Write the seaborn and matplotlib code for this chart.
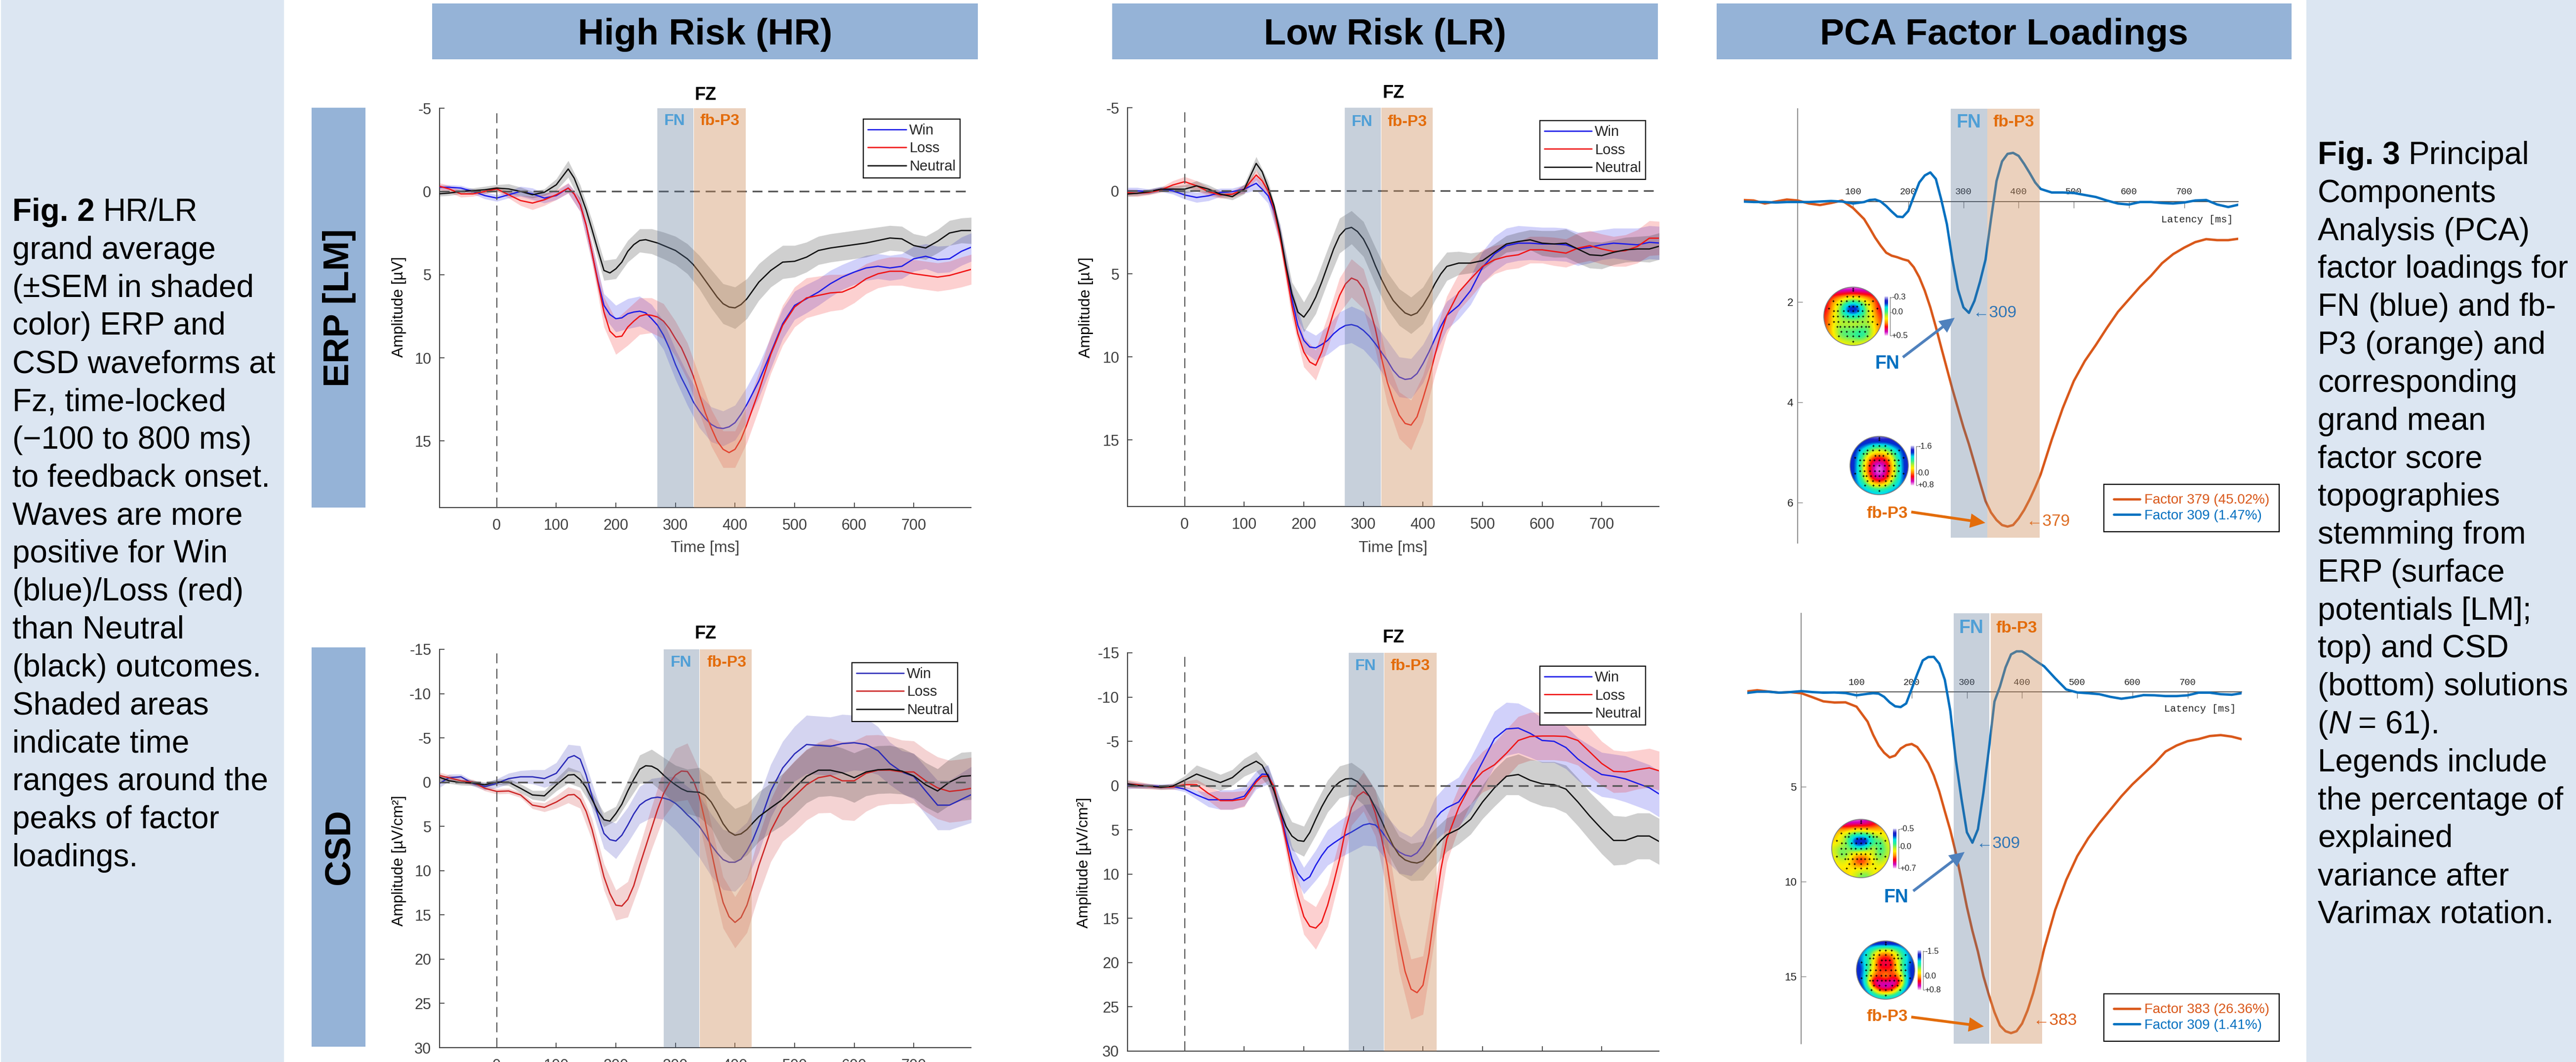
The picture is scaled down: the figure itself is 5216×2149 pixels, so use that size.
import numpy as np
import pandas as pd
import matplotlib
matplotlib.use("Agg")
import matplotlib.pyplot as plt
import seaborn as sns
from matplotlib.colors import LinearSegmentedColormap
from matplotlib.patches import Rectangle, Circle

# sample times of the grand average waveforms [ms]
time = list(range(-100, 801, 20))
# extra readings around the peaks, for the lines only
mid_time = [130,150,170,190,210,230,250,270,290,310,330,350,370,390,410,430]

# HR ERP
hr_erp_win = [-.25,-.25,-.2,0,.25,.4,.2,0,.15,.4,.25,-.2,.8,3.7,6.85,7.65,7.35,7.2,7.65,8.65,10.4,11.9,13.2,14.0,14.25,13.9,12.8,11.4,9.7,7.95,6.85,6.45,6.05,5.55,5.15,4.85,4.6,4.5,4.6,4.5,4.05,3.9,4.1,4.05,3.6,3.3]
hr_erp_loss = [-.35,-.15,.15,.15,0,-.15,.2,.55,.7,.5,.2,-.2,.8,3.7,7.25,8.75,8.15,7.5,7.45,7.8,8.85,10.2,12.2,14.2,15.5,15.5,14.0,12.0,9.8,8.05,6.95,6.4,6.25,6.1,6.05,5.75,5.25,4.95,4.8,4.8,4.95,5.05,5.15,5.05,4.85,4.65]
hr_erp_neutral = [.15,.1,0,-.05,-.1,-.2,-.15,0,.2,.05,-.4,-1.35,.1,2.3,4.75,4.65,3.6,2.95,3.0,3.25,3.55,4.05,4.85,5.85,6.75,7.0,6.45,5.45,4.75,4.25,4.2,3.95,3.55,3.4,3.3,3.2,3.1,2.95,2.8,2.85,3.25,3.4,3.0,2.5,2.35,2.35]
hr_erp_win_mid = [.15,2.0,5.4,7.4,7.6,7.25,7.3,8.05,9.45,11.2,12.65,13.65,14.2,14.15,13.4,12.1]
hr_erp_loss_mid = [.15,2.0,5.5,8.4,8.7,7.8,7.4,7.55,8.25,9.4,11.1,13.3,15.0,15.7,14.9,13.0]
hr_erp_neutral_mid = [-.8,1.1,3.55,4.9,4.25,3.2,2.9,3.1,3.4,3.8,4.4,5.35,6.35,6.95,6.8,5.95]
hr_erp_win_sem = [.15,.15,.15,.15,.2,.2,.2,.3,.35,.3,.25,.3,.4,.5,.7,.8,.9,.9,.85,.85,.9,.95,1.0,1.05,1.05,1.05,1.05,1.0,.95,.9,.85,.85,.8,.8,.75,.75,.75,.75,.75,.75,.75,.75,.8,.8,.85,.85]
hr_erp_loss_sem = [.2,.2,.2,.15,.15,.15,.2,.3,.4,.35,.3,.3,.4,.6,.9,1.05,1.1,1.1,1.05,1.05,1.05,1.1,1.1,1.1,1.1,1.1,1.1,1.1,1.15,1.2,1.2,1.2,1.15,1.1,1.05,.95,.9,.85,.85,.85,.85,.85,.85,.85,.9,.9]
hr_erp_neutral_sem = [.15,.15,.15,.15,.2,.2,.3,.25,.2,.2,.35,.5,.5,.55,.6,.6,.65,.7,.75,.8,.85,.9,1.0,1.15,1.2,1.25,1.2,1.1,1.0,1.0,.95,.9,.85,.85,.85,.85,.85,.8,.75,.75,.7,.7,.7,.75,.75,.8]

# LR ERP
lr_erp_win = [0,0,.05,-.1,0,.25,.4,.3,.1,.05,-.1,-.45,.3,2.6,6.5,9.0,9.45,9.0,8.3,8.05,8.4,9.2,10.2,11.2,11.3,10.4,8.9,7.5,6.9,6.0,4.6,3.8,3.3,3.15,3.15,3.2,3.2,3.25,3.5,3.4,3.25,3.15,3.2,3.25,3.1,3.15]
lr_erp_loss = [.1,.15,.1,-.05,-.35,-.55,-.3,.05,.25,.2,-.1,-.95,0,2.8,6.9,9.7,10.5,8.5,6.3,5.25,5.9,8.3,11.5,13.5,14.1,12.5,9.9,7.5,6.1,5.3,4.55,4.15,3.95,3.85,3.55,3.55,3.65,3.75,3.45,3.3,3.5,3.65,3.6,3.35,2.85,2.85]
lr_erp_neutral = [.2,.15,.05,-.1,-.1,-.1,-.3,-.1,.2,.35,-.1,-1.65,-.2,2.5,6.2,7.6,6.4,4.5,2.7,2.2,2.9,4.5,6.0,7.0,7.5,6.9,5.6,4.55,4.35,4.35,4.2,3.7,3.2,3.05,2.95,3.15,3.2,3.15,3.5,3.85,3.9,3.7,3.55,3.5,3.5,3.3]
lr_erp_win_mid = [-.1,1.2,4.7,8.1,9.4,9.25,8.6,8.1,8.15,8.75,9.7,10.8,11.35,11.0,9.7,8.15]
lr_erp_loss_mid = [-.6,1.1,4.8,8.6,10.3,9.7,7.3,5.6,5.4,7.0,10.0,12.6,14.0,13.6,11.3,8.6]
lr_erp_neutral_mid = [-1.15,.9,4.5,7.3,7.1,5.5,3.5,2.3,2.45,3.6,5.3,6.6,7.35,7.35,6.3,5.0]
lr_erp_win_sem = [.2,.2,.15,.15,.2,.25,.3,.3,.25,.2,.25,.4,.45,.55,.65,.7,.75,.85,1.0,1.1,1.15,1.15,1.2,1.2,1.2,1.15,1.0,.85,.8,.85,.95,1.05,1.05,1.05,1.0,1.0,1.0,1.0,1.0,.95,.9,.9,.95,1.0,1.0,1.0]
lr_erp_loss_sem = [.2,.2,.15,.15,.25,.3,.3,.25,.2,.2,.25,.3,.35,.5,.75,.9,.9,.95,1.05,1.15,1.2,1.25,1.3,1.4,1.5,1.4,1.2,1.15,1.1,1.1,1.0,.85,.8,.8,.8,.8,.85,.85,.9,.9,.9,.9,.95,1.0,1.05,1.0]
lr_erp_neutral_sem = [.15,.15,.15,.15,.2,.25,.3,.25,.2,.2,.3,.4,.4,.5,.7,.9,1.0,1.0,1.05,1.0,1.05,1.1,1.1,1.1,1.1,1.1,1.0,.85,.7,.6,.55,.5,.5,.55,.6,.75,.8,.85,.85,.8,.8,.75,.75,.75,.8,.8]

# HR CSD
hr_csd_win = [.3,-.5,-.6,.15,.5,.15,-.4,-.6,-.6,-.4,-1.0,-2.75,-2.6,1.6,5.8,6.65,4.85,2.6,1.8,1.8,2.4,3.7,5.0,7.1,8.75,9.05,7.75,4.85,1.0,-1.6,-3.2,-4.25,-4.15,-4.05,-4.35,-4.45,-4.25,-3.55,-2.1,-1.15,-.65,1.0,2.6,2.6,1.95,1.3]
hr_csd_loss = [-.8,-.5,-.15,0,.7,1.05,1.0,1.45,2.6,2.85,2.25,1.45,1.95,5.35,10.7,13.9,13.25,9.4,5.2,1.3,-.8,-1.2,1.6,7.75,13.6,15.85,13.9,9.4,5.5,2.9,1.6,.3,-.5,-.75,-.15,-.15,-1.0,-1.35,-1.35,-1.15,-1.15,-.15,.65,1.05,.9,.65]
hr_csd_neutral = [-.65,-.15,.05,.1,.3,0,0,.7,1.45,1.55,.3,-.8,-.3,1.95,4.25,3.55,1.0,-1.45,-1.8,-.8,.3,1.05,1.15,2.25,4.7,6.0,5.35,3.9,2.9,1.95,.65,-.65,-1.35,-1.35,-1.05,-.5,-1.15,-1.4,-1.45,-1.25,-.7,.3,1.0,0,-.65,-.75]
hr_csd_win_mid = [-3.0,-.8,3.8,6.5,6.0,3.6,2.1,1.7,2.0,3.0,4.3,6.0,8.0,9.05,8.7,6.5]
hr_csd_loss_mid = [1.4,3.3,8.0,12.6,14.0,11.7,7.3,3.1,.1,-1.25,-.2,4.5,10.9,15.2,15.3,11.7]
hr_csd_neutral_mid = [-.85,.6,3.3,4.4,2.5,-.3,-1.85,-1.45,-.2,.75,1.1,1.5,3.4,5.6,5.85,4.6]
hr_csd_win_sem = [.5,.4,.3,.3,.4,.5,.6,.7,.8,1.0,1.2,1.5,1.5,1.5,1.7,2.0,2.0,2.1,2.2,2.4,3.0,3.2,3.5,3.5,3.4,3.3,3.2,3.1,3.0,3.0,3.1,3.3,3.3,3.3,3.3,3.1,3.0,2.7,2.4,2.4,2.6,2.7,2.8,2.8,3.0,3.2]
hr_csd_loss_sem = [.4,.3,.3,.3,.3,.3,.3,.3,.4,.5,.7,.9,1.0,1.2,1.5,1.7,2.0,2.2,2.4,2.7,3.0,3.2,3.0,3.0,2.9,2.9,3.1,3.3,3.5,3.8,4.0,4.0,4.0,4.2,4.4,4.5,4.3,4.0,3.8,3.6,3.5,3.5,3.5,3.5,3.5,3.5]
hr_csd_neutral_sem = [.4,.3,.3,.3,.3,.3,.4,.5,.5,.6,.7,.9,.9,.8,.8,.8,1.2,1.6,1.9,2.0,2.2,2.5,2.8,2.9,3.0,3.0,2.9,2.8,2.8,2.9,3.0,3.0,3.0,2.9,2.8,2.8,2.7,2.7,2.7,2.6,2.5,2.5,2.5,2.6,2.7,2.7]

# LR CSD
lr_csd_win = [0,0,.05,.1,.1,.4,1.05,1.6,1.6,1.6,1.2,-.6,-1.25,2.8,8.3,10.75,9.0,7.0,6.05,5.25,4.45,4.45,6.05,7.5,8.0,6.7,3.8,2.5,1.85,-.1,-2.7,-5.3,-6.4,-6.5,-5.9,-5.1,-5.0,-4.3,-3.0,-2.05,-1.25,-1.05,-.75,-.25,.25,1.1]
lr_csd_loss = [-.2,-.1,.1,.2,.15,-.1,-.1,.9,1.7,1.7,1.5,-.4,-1.05,3.1,9.6,14.8,16.1,13.5,8.3,2.5,.7,3.1,9.0,17.7,23.0,22.55,14.15,6.05,2.5,-.1,-1.55,-2.35,-3.65,-5.1,-5.55,-5.6,-5.6,-5.55,-5.1,-3.8,-2.5,-1.6,-1.55,-1.8,-2.0,-1.6]
lr_csd_neutral = [-.25,0,.05,.2,.05,-.6,-1.3,-.8,-.35,-.9,-2.05,-2.75,-1.05,2.8,5.7,6.3,3.8,1.2,-.4,-.8,.25,2.5,5.4,7.85,8.65,8.5,7.0,5.55,4.9,3.8,1.85,.25,-1.05,-1.25,-.6,-.2,-.1,.4,1.85,3.45,4.9,6.2,6.2,5.7,5.7,6.45]
lr_csd_win_mid = [-1.3,.3,5.8,9.9,10.3,7.9,6.5,5.6,4.85,4.3,5.1,6.9,7.85,7.6,5.2,3.0]
lr_csd_loss_mid = [-1.05,.1,6.3,12.5,15.9,15.4,11.0,5.0,1.2,1.2,5.8,13.5,21.0,23.4,19.0,9.5]
lr_csd_neutral_mid = [-2.3,.6,4.6,6.2,5.3,2.4,.2,-.75,-.45,1.2,3.9,6.8,8.4,8.75,7.8,6.2]
lr_csd_win_sem = [.4,.3,.25,.25,.3,.3,.5,.8,1.1,1.1,1.1,1.0,1.1,1.3,1.4,1.5,1.7,2.0,2.1,2.2,2.3,2.4,2.5,2.4,2.2,2.2,2.4,2.6,2.8,3.0,3.1,3.1,3.0,2.8,2.7,2.5,2.4,2.4,2.4,2.5,2.5,2.5,2.6,2.6,2.6,2.6]
lr_csd_loss_sem = [.5,.4,.3,.25,.3,.4,.6,.8,1.0,1.0,.9,.5,.5,.9,1.6,2.0,2.4,2.4,2.2,2.0,2.2,2.6,3.0,3.3,3.4,3.3,3.0,2.6,2.3,2.2,2.3,2.5,2.7,2.7,2.7,2.7,2.7,2.8,2.8,2.7,2.5,2.4,2.3,2.2,2.2,2.2]
lr_csd_neutral_sem = [.4,.3,.25,.25,.3,.5,1.0,1.0,.9,.9,1.0,1.1,1.1,1.3,1.6,1.7,1.8,1.8,1.8,1.8,1.9,2.0,2.1,2.1,2.1,2.2,2.1,1.9,1.7,1.7,1.9,2.1,2.1,2.3,2.4,2.5,2.6,2.7,2.7,2.7,2.8,2.8,2.7,2.6,2.6,2.6]

# PCA factor loadings
pca_time = [-100,-80,-60,-40,-20,0,20,40,60,80,100,120,130,140,150,160,170,180,190,200,210,220,230,240,250,260,270,280,290,300,310,320,330,340,350,360,370,380,390,400,410,420,430,440,460,480,500,520,540,560,580,600,620,640,660,680,700,720,740,760,780,800]
erp_factor_379 = [-.03,-.02,.04,0,-.04,-.02,.04,.07,.03,-.02,.13,.35,.53,.72,.88,1.02,1.08,1.11,1.15,1.18,1.31,1.51,1.78,2.11,2.5,2.92,3.33,3.74,4.12,4.5,4.84,5.22,5.6,5.97,6.2,6.35,6.45,6.48,6.45,6.32,6.15,5.94,5.7,5.44,4.75,4.12,3.58,3.18,2.86,2.52,2.2,1.95,1.7,1.48,1.23,1.05,.92,.81,.75,.77,.77,.74]
erp_factor_309 = [0,.01,.01,.02,.01,.01,.01,0,-.01,0,.04,.01,-.03,-.04,0,.09,.2,.30,.31,.19,-.1,-.38,-.52,-.58,-.45,-.03,.45,1.16,1.75,2.11,2.22,1.98,1.6,1.16,.35,-.41,-.8,-.95,-.97,-.91,-.75,-.57,-.38,-.25,-.18,-.18,-.17,-.13,-.09,-.02,.04,.06,.01,.01,.03,.04,.02,-.02,-.03,.06,.11,.06]
csd_factor_383 = [-.03,-.1,-.03,.03,0,.06,.27,.49,.55,.54,.77,1.56,2.25,2.82,3.2,3.45,3.35,2.98,2.8,2.74,2.9,3.3,3.75,4.4,5.25,6.29,7.3,8.5,9.9,11.34,12.6,13.7,15.0,16.0,16.9,17.6,17.9,18.0,17.9,17.5,16.8,15.9,14.8,13.55,11.5,9.92,8.66,7.71,6.92,6.21,5.5,4.87,4.32,3.77,3.14,2.82,2.59,2.48,2.32,2.27,2.35,2.5]
csd_factor_309 = [.05,-.02,-.02,.03,0,-.05,0,.03,.02,.05,.17,.09,.06,.08,.25,.54,.75,.79,.6,-.17,-.95,-1.67,-1.85,-1.86,-1.5,-.65,1.0,3.6,5.6,7.4,7.95,7.24,5.3,2.98,.5,-.3,-1.3,-1.99,-2.15,-2.15,-1.97,-1.75,-1.55,-1.36,-.73,-.14,.02,.06,.11,.25,.35,.27,.16,.17,.21,.21,.17,.03,.03,.11,.14,.05]

# topographies, position on each map's colour bar (0 top, 1 bottom)
topo_erp_fn = [[.85,.9,.95,.95,.95,.95,.95,.9,.85],[.8,.75,.7,.65,.62,.65,.7,.75,.8],[.8,.65,.5,.35,.25,.35,.5,.65,.8],[.8,.62,.45,.15,.03,.15,.45,.62,.8],[.75,.58,.45,.38,.32,.38,.45,.58,.75],[.75,.58,.5,.52,.53,.52,.47,.55,.72],[.72,.55,.42,.42,.42,.4,.38,.5,.7],[.72,.6,.42,.38,.38,.3,.38,.52,.7],[.72,.65,.58,.55,.52,.55,.55,.62,.72]]
topo_erp_p3 = [[.1,.1,.08,.06,.05,.06,.08,.1,.1],[.12,.15,.2,.3,.32,.3,.2,.15,.12],[.12,.25,.42,.55,.6,.55,.42,.25,.12],[.12,.3,.55,.78,.82,.78,.55,.3,.12],[.12,.33,.62,.9,.97,.9,.62,.33,.12],[.12,.33,.62,.9,.97,.9,.62,.33,.12],[.14,.3,.52,.82,.9,.82,.52,.3,.14],[.16,.24,.35,.52,.58,.52,.35,.24,.16],[.12,.18,.2,.24,.26,.24,.2,.18,.12]]
topo_csd_fn = [[.8,.9,.95,.95,.95,.9,.82,.75,.7],[.65,.7,.7,.65,.65,.68,.68,.65,.6],[.62,.55,.42,.3,.28,.32,.45,.52,.6],[.62,.52,.42,.1,.03,.1,.4,.35,.55],[.5,.42,.48,.35,.33,.42,.55,.32,.5],[.55,.4,.45,.62,.68,.62,.48,.4,.5],[.58,.52,.55,.72,.82,.72,.55,.45,.55],[.6,.58,.58,.58,.58,.55,.55,.6,.65],[.62,.6,.6,.52,.42,.42,.55,.62,.65]]
topo_csd_p3 = [[.1,.12,.1,.08,.06,.08,.1,.12,.1],[.15,.25,.4,.55,.6,.55,.4,.25,.15],[.2,.3,.5,.75,.78,.72,.5,.3,.2],[.15,.3,.5,.82,.85,.82,.5,.3,.15],[.12,.28,.55,.75,.75,.75,.55,.28,.12],[.14,.32,.7,.76,.6,.76,.72,.32,.14],[.12,.3,.88,.95,.93,.97,.92,.32,.12],[.1,.2,.45,.8,.88,.8,.45,.2,.1],[.08,.12,.2,.26,.28,.26,.2,.12,.08]]

electrode_rows = [(-.93,[0]),(-.87,[0]),(-.66,[-.2,0,.2]),(-.51,[-.67,-.4,-.22,0,.2,.4,.67]),(-.4,[-.54,-.42,.28,.42,.54]),(-.33,[-.14,0,.14]),
                  (-.27,[-.81,.81]),(-.18,[-.65,-.52,-.32,-.17,0,.17,.32,.52,.65]),(0,[-.67,-.51,-.34,-.18,0,.18,.33,.51,.67]),
                  (.18,[-.65,-.5,-.31,-.15,0,.15,.31,.5,.65]),(.27,[-.81,.81]),(.35,[-.54,-.43,-.29,-.13,0,.13,.29,.43,.54]),
                  (.52,[-.4,-.22,0,.22,.4]),(.66,[-.49,-.2,0,.2,.49]),(.85,[0])]

conditions = ["Win", "Loss", "Neutral"]
caption_left = ["grand average", "(±SEM in shaded", "color) ERP and", "CSD waveforms at", "Fz, time-locked",
                "(−100 to 800 ms)", "to feedback onset.", "Waves are more", "positive for Win", "(blue)/Loss (red)",
                "than Neutral", "(black) outcomes.", "Shaded areas", "indicate time", "ranges around the",
                "peaks of factor", "loadings."]
caption_right = ["Components", "Analysis (PCA)", "factor loadings for", "FN (blue) and fb-", "P3 (orange) and",
                 "corresponding", "grand mean", "factor score", "topographies", "stemming from", "ERP (surface",
                 "potentials [LM];", "top) and CSD", "(bottom) solutions", None, "Legends include",
                 "the percentage of", "explained", "variance after", "Varimax rotation."]

W, H = 5216, 2149
sns.set_theme(style="ticks")
plt.rcParams["font.family"] = ["Liberation Sans", "DejaVu Sans"]
plt.rcParams["axes.unicode_minus"] = False
DARK = "#404040"
FN_COL, P3_COL = "#4F9FD6", "#E36C0A"

fig = plt.figure(figsize=(W / 100, H / 100), dpi=100, facecolor="white")


def px_axes(x0, y0, x1, y1, **kw):
    return fig.add_axes([x0 / W, 1 - y1 / H, (x1 - x0) / W, (y1 - y0) / H], **kw)


# background layer: panels, headers, captions
bg = px_axes(0, 0, W, H, zorder=-1)
bg.set_xlim(0, W)
bg.set_ylim(H, 0)
bg.axis("off")
for x0, x1 in [(2, 575), (4670, 5216)]:
    bg.add_patch(Rectangle((x0, 0), x1 - x0, H, color="#DCE6F2", lw=0))
for x0, x1, label in [(875, 1980, "High Risk (HR)"), (2252, 3357, "Low Risk (LR)"), (3476, 4640, "PCA Factor Loadings")]:
    bg.add_patch(Rectangle((x0, 7), x1 - x0, 113, color="#95B3D7", lw=0))
    bg.text((x0 + x1) / 2, 63, label, ha="center", va="center_baseline", fontsize=53, fontweight="bold", color="black")
for y0, y1, label in [(218, 1027, "ERP [LM]"), (1310, 2118, "CSD")]:
    bg.add_patch(Rectangle((631, y0), 109, y1 - y0, color="#95B3D7", lw=0))
    bg.text(687, (y0 + y1) / 2, label, ha="center", va="center", rotation=90, fontsize=52, fontweight="bold", color="black")

renderer = fig.canvas.get_renderer()
CAP_SIZE, PITCH = 46, 76.8


def segments(x, y, parts):
    for txt, kw in parts:
        t = bg.text(x, y, txt, fontsize=CAP_SIZE, va="baseline", color="black", **kw)
        x = t.get_window_extent(renderer).x1 + 17


segments(25, 447, [("Fig. 2", {"fontweight": "bold"}), ("HR/LR", {})])
for i, line in enumerate(caption_left, start=1):
    bg.text(25, 447 + i * PITCH, line, fontsize=CAP_SIZE, va="baseline", color="black")
segments(4693, 332, [("Fig. 3", {"fontweight": "bold"}), ("Principal", {})])
for i, line in enumerate(caption_right, start=1):
    if line is None:
        x_n = bg.text(4693, 332 + i * PITCH, "(", fontsize=CAP_SIZE, va="baseline", color="black").get_window_extent(renderer).x1
        x_n = bg.text(x_n, 332 + i * PITCH, "N", fontsize=CAP_SIZE, va="baseline", style="italic", color="black").get_window_extent(renderer).x1
        bg.text(x_n + 15, 332 + i * PITCH, "= 61).", fontsize=CAP_SIZE, va="baseline", color="black")
    else:
        bg.text(4693, 332 + i * PITCH, line, fontsize=CAP_SIZE, va="baseline", color="black")


def band(ax, a, b, color, alpha, **kw):
    ax.axvspan(a, b, facecolor=color, alpha=alpha, lw=0, zorder=5, **kw)


def erp_panel(rect, series, mids, sems, ylim, yticks, ylabel, ylabel_xy, fn, p3, show_xlabel, palette, legend_box, handle_len):
    ax = px_axes(*rect)
    n = len(time) + len(mid_time)
    df = pd.DataFrame({"time": (time + mid_time) * 3,
                       "amp": sum([v + m for v, m in zip(series, mids)], []),
                       "cond": np.repeat(conditions, n)})
    for vals, sem, c in zip(series, sems, palette):
        v, s = np.array(vals), np.array(sem)
        ax.fill_between(time, v - s, v + s, color=c, alpha=0.2, lw=0, zorder=1)
    sns.lineplot(data=df, x="time", y="amp", hue="cond", hue_order=conditions, palette=palette,
                 estimator=None, errorbar=None, linewidth=1.9, ax=ax, zorder=3)
    ax.axhline(0, color="#555555", lw=2.4, ls=(0, (6, 3.5)), zorder=4)
    ax.axvline(0, color="#555555", lw=1.6, ls=(0, (9, 5)), zorder=4)
    band(ax, *fn, "#536E92", 0.32)
    band(ax, *p3, "#CD8E5C", 0.40)
    ax.set_xlim(-96, 796)
    ax.set_ylim(ylim)
    ax.set_xticks(range(0, 701, 100))
    ax.set_yticks(yticks)
    ax.tick_params(direction="in", length=7, width=1.3, color=DARK, labelcolor=DARK, labelsize=22, pad=12)
    ax.tick_params(axis="x", pad=15.5)
    sns.despine(ax=ax)
    for s in ["left", "bottom"]:
        ax.spines[s].set_color(DARK)
        ax.spines[s].set_linewidth(1.5)
    ax.set_xlabel("Time [ms]" if show_xlabel else "", fontsize=23, color=DARK)
    ax.xaxis.set_label_coords(0.5, -(1109 - rect[3]) / (rect[3] - rect[1]), transform=ax.transAxes)
    ax.xaxis.label.set_va("center")
    ax.set_ylabel(ylabel, fontsize=22.5, color="black")
    ax.yaxis.set_label_coords((ylabel_xy[0] - rect[0]) / (rect[2] - rect[0]),
                              1 - (ylabel_xy[1] - rect[1]) / (rect[3] - rect[1]))
    ax.yaxis.label.set_va("center")
    leg = ax.legend(loc="upper right", bbox_to_anchor=(legend_box[0] / W, 1 - legend_box[1] / H),
                    bbox_transform=fig.transFigure, borderaxespad=0, fancybox=False, framealpha=1,
                    edgecolor="black", handlelength=handle_len, handletextpad=0.2, labelspacing=0.3,
                    borderpad=0.3, prop={"size": 21})
    leg.set_zorder(10)
    leg.get_frame().set_linewidth(1.6)
    return ax


bright = ["#1C1CE8", "#F01414", "#111111"]
dull = ["#2A2AB8", "#CC2626", "#111111"]
erp_ticks = [-5, 0, 5, 10, 15]
csd_ticks = [-15, -10, -5, 0, 5, 10, 15, 20, 25, 30]

erp_panel((890, 219, 1966, 1027), [hr_erp_win, hr_erp_loss, hr_erp_neutral],
          [hr_erp_win_mid, hr_erp_loss_mid, hr_erp_neutral_mid],
          [hr_erp_win_sem, hr_erp_loss_sem, hr_erp_neutral_sem], (19, -5), erp_ticks, "Amplitude [µV]",
          (808, 621), (270, 330), (331, 418), True, bright, (1944, 241), 2.7)
erp_panel((2283, 218, 3359, 1025), [lr_erp_win, lr_erp_loss, lr_erp_neutral],
          [lr_erp_win_mid, lr_erp_loss_mid, lr_erp_neutral_mid],
          [lr_erp_win_sem, lr_erp_loss_sem, lr_erp_neutral_sem], (19, -5), erp_ticks, "Amplitude [µV]",
          (2199, 622), (269, 329), (330, 416), True, bright, (3332, 244), 3.3)
erp_panel((890, 1314, 1966, 2120), [hr_csd_win, hr_csd_loss, hr_csd_neutral],
          [hr_csd_win_mid, hr_csd_loss_mid, hr_csd_neutral_mid],
          [hr_csd_win_sem, hr_csd_loss_sem, hr_csd_neutral_sem], (30, -15), csd_ticks, "Amplitude [µV/cm²]",
          (808, 1742), (280, 340), (341, 428), False, dull, (1939, 1341), 3.3)
erp_panel((2283, 1321, 3359, 2127), [lr_csd_win, lr_csd_loss, lr_csd_neutral],
          [lr_csd_win_mid, lr_csd_loss_mid, lr_csd_neutral_mid],
          [lr_csd_win_sem, lr_csd_loss_sem, lr_csd_neutral_sem], (30, -15), csd_ticks, "Amplitude [µV/cm²]",
          (2195, 1746), (275, 334), (335, 423), False, bright, (3332, 1348), 3.3)


def pca_panel(rect, vals, labels, ylim, yticks, fn, p3, band_bottom, legend_box):
    ax = px_axes(*rect)
    ax.patch.set_alpha(0)
    df = pd.DataFrame({"time": pca_time * 2, "load": vals[0] + vals[1], "factor": np.repeat(labels, len(pca_time))})
    sns.lineplot(data=df, x="time", y="load", hue="factor", hue_order=labels, palette=["#D9581A", "#0070C0"],
                 estimator=None, errorbar=None, linewidth=3.5, ax=ax, zorder=3)
    ymin_frac = (ylim[0] - band_bottom) / (ylim[0] - ylim[1])
    band(ax, *fn, "#536E92", 0.32, ymin=ymin_frac)
    band(ax, *p3, "#CD8E5C", 0.40, ymin=ymin_frac)
    ax.set_xlim(-98, 798)
    ax.set_ylim(ylim)
    ax.spines["left"].set_position(("data", 0))
    ax.spines["bottom"].set_position(("data", 0))
    ax.spines["left"].set_color("#808080")
    ax.spines["bottom"].set_bounds(0, 798)
    ax.spines["bottom"].set_linewidth(1.1)
    ax.spines["left"].set_linewidth(1.3)
    sns.despine(ax=ax)
    ax.set_xticks(range(100, 701, 100))
    ax.set_yticks(yticks)
    ax.tick_params(axis="x", direction="out", length=9, width=1, color="#808080", labelsize=13.5, labelcolor="#222222", pad=-29)
    ax.tick_params(axis="y", direction="in", length=7, width=1, color="#808080", labelsize=16, labelcolor="#222222", pad=7)
    for lab in ax.get_xticklabels():
        lab.set_family("Liberation Mono")
    ax.set_xlabel("")
    ax.set_ylabel("")
    leg = ax.legend(loc="upper right", bbox_to_anchor=(legend_box[0] / W, 1 - legend_box[1] / H),
                    bbox_transform=fig.transFigure, borderaxespad=0, fancybox=False, framealpha=1,
                    edgecolor="black", handlelength=1.9, handletextpad=0.35, labelspacing=0.2, borderpad=0.7,
                    labelcolor="linecolor", prop={"size": 20})
    leg.set_zorder(10)
    leg.get_frame().set_linewidth(1.6)
    for line in leg.get_lines():
        line.set_linewidth(3.4)
    return ax


pca_panel((3531, 220, 4532, 1099), [erp_factor_379, erp_factor_309],
          ["Factor 379 (45.02%)", "Factor 309 (1.47%)"], (6.81, -1.85), [2, 4, 6], (277, 343), (343, 438), 6.70,
          (4615, 980))
pca_panel((3538, 1241, 4539, 2112), [csd_factor_383, csd_factor_309],
          ["Factor 383 (26.36%)", "Factor 309 (1.41%)"], (18.56, -4.16), [5, 10, 15], (276, 341), (343, 436), 18.56,
          (4615, 2011))

# foreground layer for labels and arrows
fg = px_axes(0, 0, W, H, zorder=20)
fg.set_xlim(0, W)
fg.set_ylim(H, 0)
fg.axis("off")
fg.patch.set_alpha(0)

for x, y in [(1429, 192), (2822, 188), (1429, 1283), (2822, 1291)]:
    fg.text(x, y, "FZ", ha="center", va="center", fontsize=26, fontweight="bold", color="black")
for fx, px_, y, fn_size, p3_size in [(1366, 1458, 245, 23, 23), (2758, 2850, 247, 23, 23), (1379, 1471, 1341, 23, 23),
                                     (2765, 2856, 1348, 23, 23), (3986, 4077, 248, 27, 24), (3991, 4083, 1271, 27, 24)]:
    fg.text(fx, y, "FN", ha="center", va="center", fontsize=fn_size, fontweight="bold", color=FN_COL)
    fg.text(px_, y, "fb-P3", ha="center", va="center", fontsize=p3_size, fontweight="bold", color=P3_COL)

for x, y, label, c in [(3994, 634, "←309", "#2E75B6"), (4102, 1056, "←379", "#DD6B20"),
                       (4001, 1707, "←309", "#2E75B6"), (4116, 2065, "←383", "#DD5F1A")]:
    fg.text(x, y, label, ha="left", va="center", fontsize=24, color=c)
for x, y, label, c, size in [(3821, 736, "FN", "#0070C0", 27), (3821, 1039, "fb-P3", P3_COL, 24),
                             (3839, 1816, "FN", "#0070C0", 27), (3821, 2057, "fb-P3", P3_COL, 24)]:
    fg.text(x, y, label, ha="center", va="center", fontsize=size, fontweight="bold", color=c)
for tail, tip, c in [((3853, 723), (3958, 643), "#4F81BD"), ((3874, 1803), (3978, 1724), "#4F81BD"),
                     ((3870, 1036), (4020, 1058), "#E36C0A"), ((3870, 2058), (4017, 2077), "#E36C0A")]:
    fg.annotate("", xy=tip, xytext=tail, xycoords="data", textcoords="data",
                arrowprops=dict(width=4, headwidth=21, headlength=22, shrink=0, color=c, lw=0))
fg.text(4522, 444, "Latency [ms]", ha="right", va="center", fontsize=14.5, family="Liberation Mono", color="#222222")
fg.text(4528, 1434, "Latency [ms]", ha="right", va="center", fontsize=14.5, family="Liberation Mono", color="#222222")

topo_cmap = LinearSegmentedColormap.from_list("topo", [(0, "#D0CCF5"), (.1, "#2020C8"), (.17, "#0030D0"), (.27, "#00E0E8"),
                                                      (.38, "#30F090"), (.5, "#C8F020"), (.57, "#FFF000"),
                                                      (.68, "#FF9000"), (.78, "#FF0010"), (.9, "#D000C0"), (1, "#F8C8F4")])
ex = [dx for dy, row in electrode_rows for dx in row]
ey = [dy for dy, row in electrode_rows for dx in row]


def topomap(cx, cy, grid, cbar_x, cbar_y0, cbar_y1, labels):
    r = 60
    ax = px_axes(cx - r, cy - r, cx + r, cy + r, zorder=15)
    ax.set_xlim(-1, 1)
    ax.set_ylim(1, -1)
    ax.axis("off")
    im = ax.imshow(grid, extent=(-1, 1, 1, -1), cmap=topo_cmap, vmin=0, vmax=1, interpolation="bicubic", aspect="auto")
    rim = Circle((0, 0), 0.985, transform=ax.transData, fc="none", ec="#808080", lw=1.2)
    ax.add_patch(rim)
    im.set_clip_path(rim)
    ax.scatter(ex, ey, marker="+", s=11, c="black", linewidths=0.9, zorder=3)
    cb = px_axes(cbar_x, cbar_y0, cbar_x + 7, cbar_y1, zorder=15)
    cb.imshow(np.linspace(0, 1, 200).reshape(-1, 1), cmap=topo_cmap, aspect="auto")
    cb.axis("off")
    bx = cbar_x + 11
    fg.plot([bx, bx], [cbar_y0 + 1, cbar_y1 - 1], color="#808080", lw=1)
    for (y, label) in labels:
        fg.plot([bx, bx + 3], [y, y], color="#808080", lw=1)
        fg.text(bx + 3, y, label, ha="left", va="center", fontsize=12, color="#222222")


topomap(3752, 640, topo_erp_fn, 3816, 600, 679, [(602, "-0.3"), (632, "0.0"), (679, "+0.5")])
topomap(3805, 942, topo_erp_p3, 3869, 902, 982, [(903, "-1.6"), (958, "0.0"), (982, "+0.8")])
topomap(3768, 1717, topo_csd_fn, 3833, 1677, 1757, [(1678, "-0.5"), (1714, "0.0"), (1757, "+0.7")])
topomap(3818, 1963, topo_csd_p3, 3883, 1923, 2003, [(1925, "-1.5"), (1975, "0.0"), (2003, "+0.8")])

fig.savefig("out.png", dpi=100)
